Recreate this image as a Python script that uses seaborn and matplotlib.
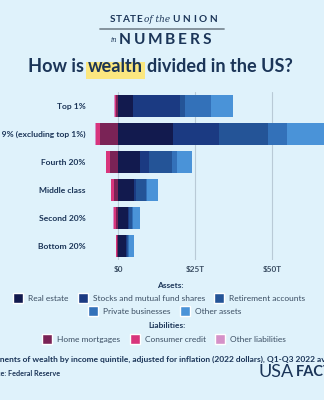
import numpy as np
import pandas as pd
import matplotlib
matplotlib.use("Agg")
import matplotlib.pyplot as plt
import seaborn as sns
from matplotlib.patches import Patch, Rectangle
from matplotlib.lines import Line2D

# ---------------- data (trillions of 2022 dollars) ----------------
groups = ["Top 1%", "Next 9% (excluding top 1%)", "Fourth 20%",
          "Middle class", "Second 20%", "Bottom 20%"]
real_estate = [4.7, 17.7, 7.0, 5.2, 3.0, 2.6]
stocks_funds = [15.4, 15.1, 3.0, 0.6, 0.4, 0.2]
retirement = [1.6, 15.9, 7.5, 3.2, 1.1, 0.5]
private_biz = [8.4, 6.0, 1.4, 0.4, 0.2, 0.2]
other_assets = [7.2, 14.0, 5.0, 3.4, 2.2, 1.6]
home_mortgages = [-0.9, -5.9, -2.7, -1.4, -0.8, -0.45]
consumer_credit = [-0.15, -1.3, -1.2, -1.0, -0.7, -0.35]
other_liabilities = [-0.5, -0.3, -0.2, -0.1, -0.1, -0.05]
x_ticks = [0, 25, 50]
x_tick_labels = ["\\$0", "\\$25T", "\\$50T"]

asset_names = ["Real estate", "Stocks and mutual fund shares", "Retirement accounts",
               "Private businesses", "Other assets"]
liab_names = ["Home mortgages", "Consumer credit", "Other liabilities"]

# ---------------- style ----------------
BG = "#dff2fb"
NAVY = "#1b3558"
TXT = "#3a4d62"
asset_colors = ["#121a4e", "#1b3a82", "#245497", "#3371b9", "#4a93d8"]
liab_colors = ["#7a2356", "#d8357c", "#d591c8"]

sns.set_style("white")
plt.rcParams["font.family"] = ["Lato", "DejaVu Sans"]

W, H = 324, 400
fig = plt.figure(figsize=(W / 100, H / 100), dpi=100, facecolor=BG)
renderer = fig.canvas.get_renderer()


def P(x, y):
    return (x / W, 1 - y / H)


def ftext(x, y, s, width=None, size=8, **kw):
    t = fig.text(*P(x, y), s, fontsize=size, **kw)
    if width is not None:
        w = t.get_window_extent(renderer).width
        t.set_fontsize(size * width / w)
    return t


def twidth(s, size, **kw):
    t = fig.text(0, 0, s, fontsize=size, **kw)
    w = t.get_window_extent(renderer).width
    t.remove()
    return w


def spaced(x0, x1, y, s, size, **kw):
    ws = [twidth(c, size, **kw) for c in s]
    gap = (x1 - x0 - sum(ws)) / (len(s) - 1)
    x = x0
    for c, w in zip(s, ws):
        ftext(x, y, c, size=size, ha="left", va="center", **kw)
        x += w + gap


# ---------------- header ----------------
spaced(110, 142, 20, "STATE", 7.2, fontweight="bold", color=NAVY)
ftext(143.5, 19.5, "of the", width=26, size=6, style="italic", family="DejaVu Serif",
      color=NAVY, va="center", ha="left")
spaced(172, 217, 20, "UNION", 7.2, fontweight="bold", color=NAVY)
fig.add_artist(Line2D([100 / W, 224 / W], [1 - 28.7 / H] * 2, color="#7d8c96", lw=1.3))
ftext(111, 40.5, "in", width=6.5, size=6, style="italic", family="DejaVu Serif",
      color=NAVY, va="center", ha="left")
spaced(119, 211, 39.5, "NUMBERS", 11.2, fontweight="bold", color=NAVY)

# title with highlighted word (three pieces so the highlight sits exactly on "wealth")
tfs = 13 * 146 / twidth("divided in the US?", 13, fontweight="bold")
fig.add_artist(Rectangle(P(86, 78.5), 59 / W, 17 / H, transform=fig.transFigure,
                         facecolor="#fbe77f", edgecolor="none", zorder=0))
ftext(83.5, 66, "How is", size=tfs, fontweight="bold", color=NAVY, va="center", ha="right", zorder=2)
ftext(115.5, 66, "wealth", size=tfs, fontweight="bold", color=NAVY, va="center", ha="center", zorder=2)
ftext(147, 66, "divided in the US?", size=tfs, fontweight="bold", color=NAVY,
      va="center", ha="left", zorder=2)

# ---------------- chart ----------------
ax = fig.add_axes([90 / W, 1 - 260 / H, 234 / W, 168 / H])
ax.set_facecolor(BG)

cum = np.zeros(len(groups))
layers = []
for name, vals, col in zip(asset_names,
                           [real_estate, stocks_funds, retirement, private_biz, other_assets],
                           asset_colors):
    cum = cum + np.array(vals)
    layers.append((cum.copy(), col))
cum = np.zeros(len(groups))
for name, vals, col in zip(liab_names,
                           [home_mortgages, consumer_credit, other_liabilities],
                           liab_colors):
    cum = cum + np.array(vals)
    layers.append((cum.copy(), col))

# draw widest layers first so smaller cumulative layers sit on top
for vals, col in sorted(layers, key=lambda t: -np.abs(t[0]).sum()):
    df = pd.DataFrame({"value": vals, "group": groups})
    sns.barplot(data=df, x="value", y="group", order=groups, color=col, orient="h",
                width=0.8, saturation=1, linewidth=0, ax=ax, zorder=3)

ax.set_xlim(-9.19, -9.19 + 234 / 3.08)
ax.set_ylim(len(groups) - 0.5, -0.5)
ax.set_xticks(x_ticks)
ax.set_xticklabels(x_tick_labels)
ax.set_xlabel("")
ax.set_ylabel("")
for s in ax.spines.values():
    s.set_visible(False)
ax.grid(axis="x", color="#b9cad6", lw=0.8, zorder=0)
ax.grid(axis="y", visible=False)
ax.set_axisbelow(True)
ax.tick_params(axis="both", length=0)
ax.tick_params(axis="y", pad=3, labelsize=6.1, labelcolor=NAVY)
ax.tick_params(axis="x", pad=4, labelsize=5.9, labelcolor=TXT)
for lab in ax.get_yticklabels() + ax.get_xticklabels():
    lab.set_fontweight("bold")

# ---------------- legends ----------------
leg_kw = dict(frameon=False, fontsize=6.0, labelcolor=TXT, handlelength=1.2,
              handleheight=1.3, handletextpad=0.6, columnspacing=1.1, borderpad=0,
              loc="center")
ftext(170, 285, "Assets:", size=6.0, fontweight="bold", color=NAVY, ha="center", va="center")
fig.legend(handles=[Patch(facecolor=c, label=n) for n, c in zip(asset_names[:3], asset_colors[:3])],
           ncol=3, bbox_to_anchor=P(159, 298), **leg_kw)
fig.legend(handles=[Patch(facecolor=c, label=n) for n, c in zip(asset_names[3:], asset_colors[3:])],
           ncol=2, bbox_to_anchor=P(165, 311), **leg_kw)
ftext(167, 326, "Liabilities:", size=6.0, fontweight="bold", color=NAVY, ha="center", va="center")
fig.legend(handles=[Patch(facecolor=c, label=n) for n, c in zip(liab_names, liab_colors)],
           ncol=3, bbox_to_anchor=P(164, 339), **leg_kw)

# ---------------- footer ----------------
foot = "Components of wealth by income quintile, adjusted for inflation (2022 dollars), Q1-Q3 2022 average"
vis = "nents of wealth by income quintile, adjusted for inflation (2022 dollars), Q1-Q3 2022 a"
fs = 6.0 * 324 / twidth(vis, 6.0, fontweight="bold")
shift = twidth("Compo", fs, fontweight="bold")
ftext(-shift, 359, foot, size=fs, fontweight="bold", color=NAVY, ha="left", va="center")

src = "Source: Federal Reserve"
fs2 = 5.2
shift2 = twidth("Sourc", fs2, fontweight="bold")
ftext(1 - shift2, 374, src, size=fs2, fontweight="bold", color=NAVY, ha="left", va="center")

ftext(258, 372, "USA", width=35, size=10, fontweight="normal", color=NAVY, ha="left", va="center")
ftext(296, 372, "FACTS", size=10.5, fontweight="bold", color=NAVY, ha="left", va="center")

fig.savefig("out.png", dpi=100, facecolor=BG)
